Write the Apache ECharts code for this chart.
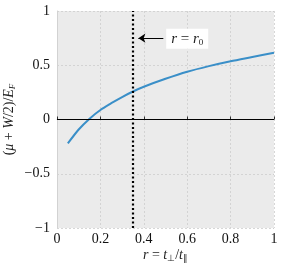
<!DOCTYPE html>
<html><head><meta charset="utf-8">
<script src="https://cdn.jsdelivr.net/npm/echarts@6/dist/echarts.min.js"></script>
<style>html,body{margin:0;padding:0;background:#fff}#c{width:285px;height:270px}</style>
</head><body><div id="c"></div>
<script>
const rValues = [0.05, 0.1, 0.15, 0.2, 0.25, 0.3, 0.35, 0.4, 0.5, 0.6, 0.7, 0.8, 0.9, 1.0];
const muValues = [-0.22, -0.092, 0.008, 0.088, 0.15, 0.207, 0.258, 0.302, 0.375, 0.44, 0.492, 0.537, 0.576, 0.615];
const r0 = 0.355;
const arrowFrom = [0.49, 0.75];
const arrowTo = [0.375, 0.75];
const labelAt = [0.60, 0.745];

const serif = '"Liberation Serif", serif';
const fmt = v => String(v).replace('-', '\u2212');
const chart = echarts.init(document.getElementById('c'));
const richMath = (sz) => ({
  i: {fontStyle: 'italic', fontFamily: serif, fontSize: sz, color: '#222'},
  n: {fontFamily: serif, fontSize: sz, color: '#222'},
  s: {fontFamily: serif, fontSize: 9, verticalAlign: 'bottom', padding: [7, 0, 0, 0], color: '#222'},
  si: {fontFamily: serif, fontStyle: 'italic', fontSize: 9, verticalAlign: 'bottom', padding: [7, 0, 0, 0], color: '#222'}
});
chart.setOption({
  animation: false,
  grid: {left: 57, right: 11, top: 11, bottom: 42, show: true, backgroundColor: '#ebebeb', borderWidth: 0,
         containLabel: false, outerBoundsMode: 'none'},
  xAxis: {
    type: 'value', min: 0, max: 1, interval: 0.2,
    name: '{i|r}{n| = }{i|t}{s|⊥}{n|/}{i|t}{s|∥}', nameLocation: 'middle', nameGap: 19, nameMoveOverlap: false,
    nameTextStyle: {fontFamily: serif, fontSize: 14, color: '#222', rich: richMath(14)},
    axisLine: {show: true, lineStyle: {color: '#d2d2d2', width: 1}},
    axisTick: {show: true, inside: true, length: 3, lineStyle: {color: '#333'}},
    axisLabel: {fontFamily: serif, fontSize: 14, color: '#111', margin: 4, formatter: fmt},
    splitLine: {show: true, lineStyle: {color: '#cdcdcd', type: [2, 2], width: 0.8}}
  },
  yAxis: {
    type: 'value', min: -1, max: 1, interval: 0.5,
    name: '{n|(}{i|μ}{n| + }{i|W}{n|/2)/}{i|E}{si|F}', nameLocation: 'middle', nameGap: 40, nameRotate: 90, nameMoveOverlap: false,
    nameTextStyle: {fontFamily: serif, fontSize: 14, color: '#222', rich: richMath(14)},
    axisLine: {show: true, lineStyle: {color: '#d2d2d2', width: 1}},
    axisTick: {show: false},
    axisLabel: {fontFamily: serif, fontSize: 14, color: '#111', margin: 7, formatter: fmt},
    splitLine: {show: true, lineStyle: {color: '#cdcdcd', type: [2, 2], width: 0.8}}
  },
  series: [
    {
      type: 'line', data: rValues.map((r, i) => [r, muValues[i]]), smooth: 0.25,
      showSymbol: false, lineStyle: {color: '#3a8fc8', width: 2}, z: 3,
      markLine: {
        silent: true, symbol: 'none', label: {show: false},
        data: [
          {yAxis: 0, lineStyle: {color: '#000', width: 1.2, type: 'solid'}},
          {xAxis: r0, lineStyle: {color: '#000', width: 2.2, type: [2, 2.5]}}
        ]
      }
    },
    {
      type: 'scatter', data: [], z: 5,
      markLine: {
        silent: true, symbol: ['none', 'arrow'], symbolSize: 7,
        label: {show: false},
        lineStyle: {color: '#000', width: 1, type: 'solid'},
        data: [[{coord: arrowFrom}, {coord: arrowTo}]]
      },
      markPoint: {
        symbol: 'rect', symbolSize: [42, 20], itemStyle: {color: '#fff'},
        label: {show: true, formatter: '{i|r}{n| = }{i|r}{s|0}', rich: richMath(15)},
        data: [{coord: labelAt}]
      }
    }
  ]
});
</script></body></html>
